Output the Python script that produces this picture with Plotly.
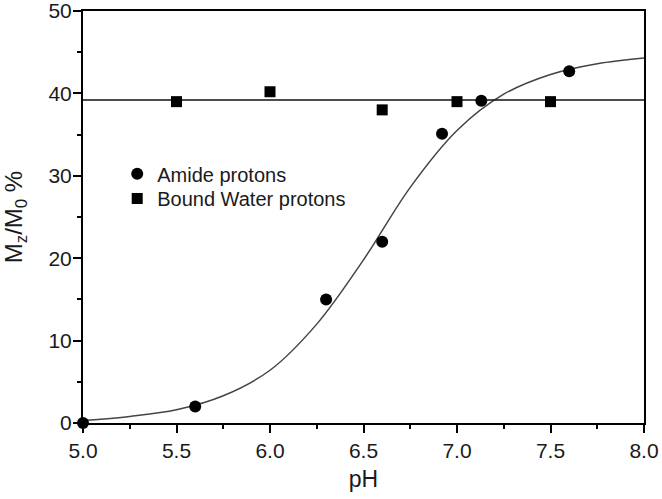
import plotly.graph_objects as go

# Amide protons (measured)
amide_ph = [5.0, 5.6, 6.3, 6.6, 6.92, 7.13, 7.6]
amide_val = [0.0, 2.0, 15.0, 22.0, 35.1, 39.1, 42.7]

# Bound water protons (measured)
water_ph = [5.5, 6.0, 6.6, 7.0, 7.5]
water_val = [39.0, 40.2, 38.0, 39.0, 39.0]

# fitted curve
fit_ph = [5.0, 5.25, 5.5, 5.75, 6.0, 6.25, 6.5, 6.75, 7.0, 7.25, 7.5, 7.75, 8.0]
fit_val = [0.3, 0.8, 1.6, 3.3, 6.4, 12.0, 19.8, 28.6, 35.5, 39.9, 42.3, 43.6, 44.3]

# mean level of bound water
water_ph_line = [5.0, 8.0]
water_line = [39.2, 39.2]

fig = go.Figure()

fig.add_trace(go.Scatter(x=fit_ph, y=fit_val, mode="lines",
                         line=dict(color="#444444", width=1.5, shape="spline"),
                         showlegend=False, hoverinfo="skip"))
fig.add_trace(go.Scatter(x=water_ph_line, y=water_line, mode="lines",
                         line=dict(color="#111111", width=1.5),
                         showlegend=False, hoverinfo="skip"))
fig.add_trace(go.Scatter(x=amide_ph, y=amide_val, mode="markers", name="Amide protons",
                         marker=dict(symbol="circle", size=12, color="black"),
                         cliponaxis=False, legend="legend"))
fig.add_trace(go.Scatter(x=water_ph, y=water_val, mode="markers", name="Bound Water protons",
                         marker=dict(symbol="square", size=11, color="black"),
                         cliponaxis=False, legend="legend2"))

axis_font = dict(family="Liberation Sans, Arial, sans-serif", size=21, color="#1a1a1a")
leg_font = dict(size=20, color="#1a1a1a")

fig.update_layout(
    width=662, height=499,
    margin=dict(l=83, r=18, t=11, b=76),
    plot_bgcolor="white", paper_bgcolor="white",
    font=axis_font,
    legend=dict(x=0.061, y=0.605, xanchor="left", yanchor="middle",
                bgcolor="rgba(0,0,0,0)", font=leg_font, itemwidth=30),
    legend2=dict(x=0.061, y=0.545, xanchor="left", yanchor="middle",
                 bgcolor="rgba(0,0,0,0)", font=leg_font, itemwidth=30),
)

fig.update_xaxes(
    range=[5.0, 8.0], tickvals=[5.0, 5.5, 6.0, 6.5, 7.0, 7.5, 8.0],
    ticktext=["5.0", "5.5", "6.0", "6.5", "7.0", "7.5", "8.0"],
    ticks="outside", ticklen=8, tickwidth=2, tickcolor="black",
    minor=dict(dtick=0.25, ticks="outside", ticklen=4, tickwidth=2, tickcolor="black"),
    showline=True, linecolor="black", linewidth=2, mirror=True,
    showgrid=False, zeroline=False, automargin=False,
    title=dict(text="pH", font=dict(size=23), standoff=10),
)
fig.update_yaxes(
    range=[0, 50], tickvals=[0, 10, 20, 30, 40, 50],
    ticks="outside", ticklen=8, tickwidth=2, tickcolor="black",
    minor=dict(dtick=5, ticks="outside", ticklen=4, tickwidth=2, tickcolor="black"),
    showline=True, linecolor="black", linewidth=2, mirror=True,
    showgrid=False, zeroline=False, automargin=False,
    ticklabelstandoff=-3, ticklabeloverflow="allow",
    title=dict(text="M<sub>z</sub>/M<sub>0</sub> %", font=dict(size=24), standoff=22),
)

# drop the default 8px body margin so the figure sits at the window corner
fig.write_html("out.html", config={"displayModeBar": False},
               post_script="document.body.style.margin = '0';")
